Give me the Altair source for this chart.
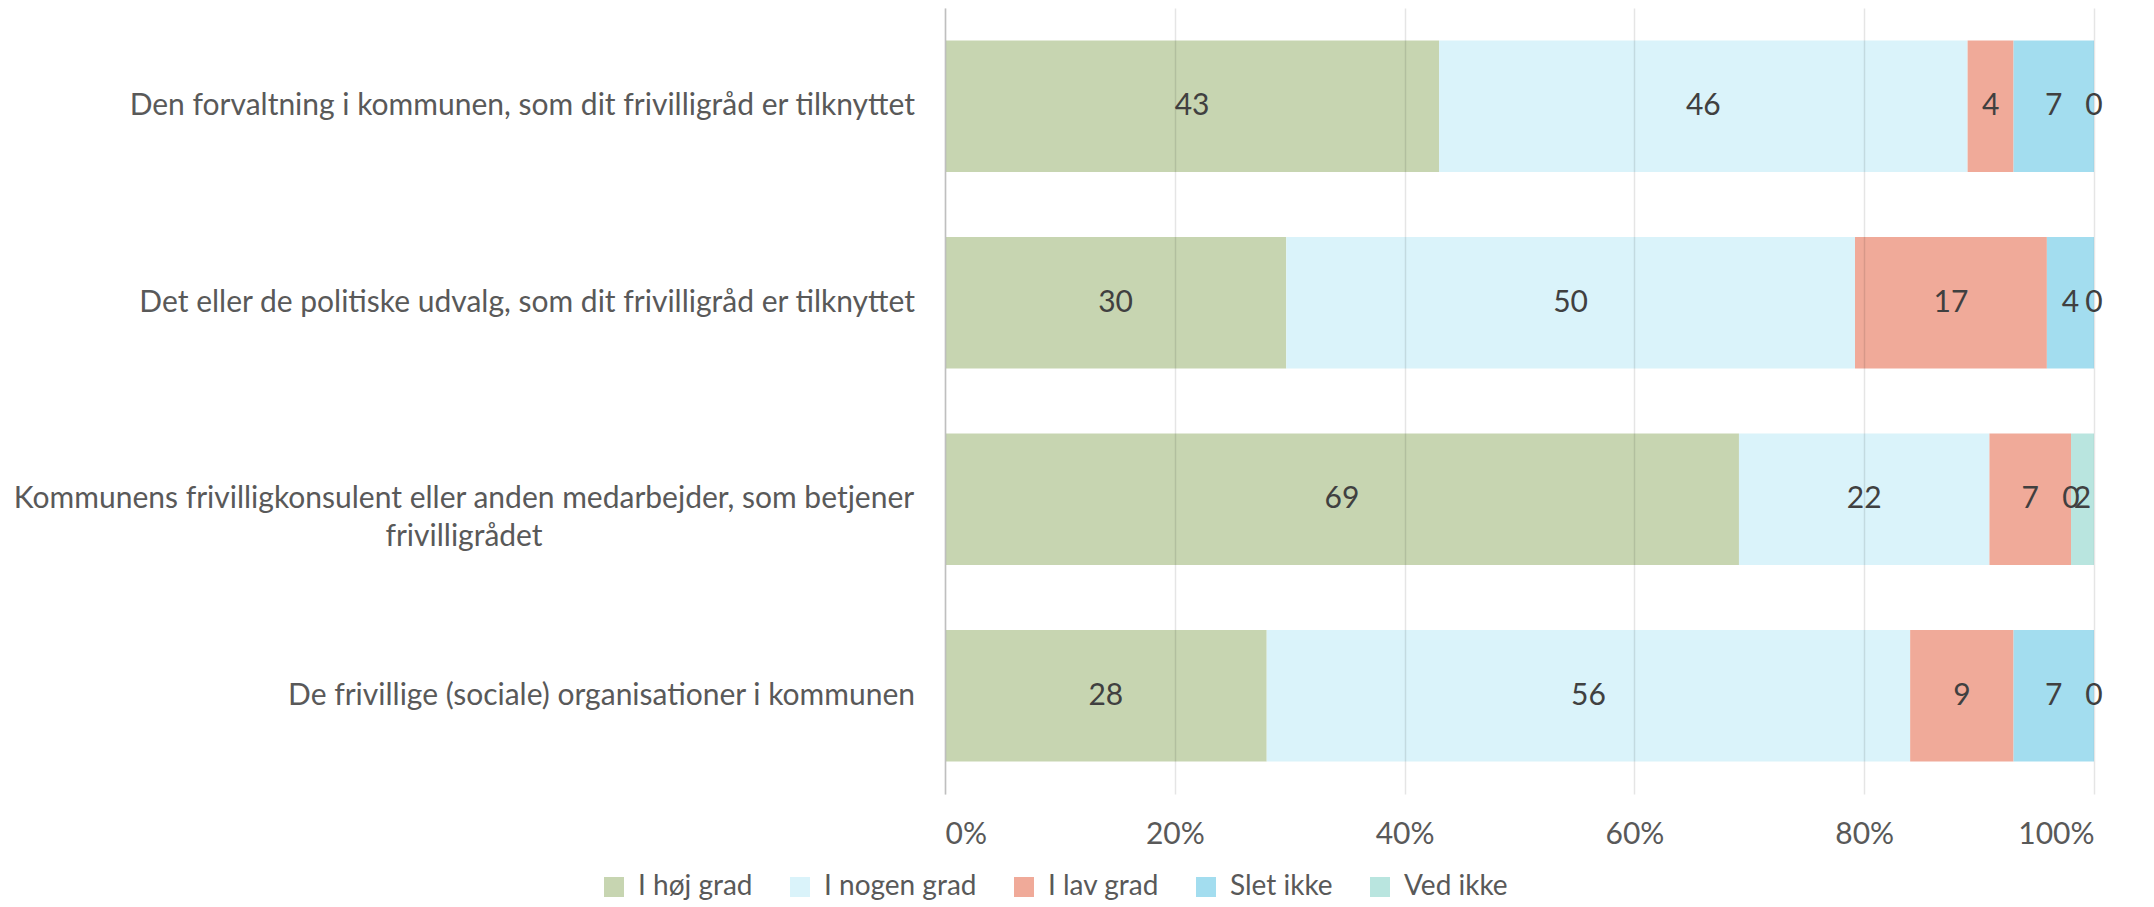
import altair as alt
import pandas as pd

categories = [
    "Den forvaltning i kommunen, som dit frivilligråd er tilknyttet",
    "Det eller de politiske udvalg, som dit frivilligråd er tilknyttet",
    "Kommunens frivilligkonsulent eller anden medarbejder, som betjener\nfrivilligrådet",
    "De frivillige (sociale) organisationer i kommunen",
]
series = ["I høj grad", "I nogen grad", "I lav grad", "Slet ikke", "Ved ikke"]
hoj = [43.0, 29.7, 69.1, 28.0]
nogen = [46.0, 49.5, 21.8, 56.0]
lav = [4.0, 16.7, 7.1, 9.0]
slet = [7.0, 4.1, 0.0, 7.0]
ved = [0.0, 0.0, 2.0, 0.0]
colors = ["#C7D5B1", "#DAF3FA", "#F0AA99", "#A3DDEF", "#B9E5DF"]
x_ticks = [0, 20, 40, 60, 80, 100]

FONT = "Lato"
FS = 30
rows = []
for i, cat in enumerate(categories):
    start = 0.0
    for j, vals in enumerate([hoj, nogen, lav, slet, ved]):
        v = vals[i]
        rows.append({"cat": cat, "series": series[j], "order": j, "value": v,
                     "start": start, "end": start + v, "mid": start + v / 2,
                     "label": str(int(round(v + 1e-9)))})
        start += v
df = pd.DataFrame(rows)
cat_df = pd.DataFrame({"cat": categories,
                       "multi": ["\n" in c for c in categories]})

y_enc = alt.Y("cat:N", sort=categories,
              scale=alt.Scale(paddingInner=0.33, paddingOuter=0.165),
              axis=alt.Axis(labels=False, ticks=False, title=None, domain=True,
                            domainColor="#BFBFBF", domainWidth=1.5, grid=False, zindex=1))
x_enc = alt.X("start:Q", scale=alt.Scale(domain=[0, 100], nice=False),
              axis=alt.Axis(values=x_ticks, labelExpr="datum.value + '%'", title=None,
                            grid=True, gridColor="#000000", gridOpacity=0.1, gridWidth=1.5,
                            domain=False, ticks=False, labelFont=FONT, labelFontSize=FS,
                            labelColor="#595959", labelPadding=25, zindex=1))

bars = alt.Chart(df).mark_bar().encode(
    y=y_enc,
    x=x_enc,
    x2="end:Q",
    color=alt.Color("series:N", sort=series,
                    scale=alt.Scale(domain=series, range=colors),
                    legend=alt.Legend(title=None, orient="none", direction="horizontal",
                                      legendX=-345, legendY=865, symbolType="square",
                                      symbolSize=400, symbolStrokeWidth=0,
                                      labelFont=FONT, labelFontSize=28, labelLimit=500,
                                      labelColor="#595959", columnPadding=33,
                                      labelOffset=10)),
    order="order:Q",
)

texts = alt.Chart(df).mark_text(font=FONT, fontSize=FS, color="#404040",
                                baseline="middle", align="center").encode(
    y=alt.Y("cat:N", sort=categories),
    x=alt.X("mid:Q"),
    text="label:N",
)

cat_right = alt.Chart(cat_df).transform_filter("!datum.multi").mark_text(
    font=FONT, fontSize=FS, color="#595959", align="right", baseline="middle"
).encode(y=alt.Y("cat:N", sort=categories), x=alt.value(-30), text="cat:N")

cat_center = alt.Chart(cat_df).transform_filter("datum.multi").mark_text(
    font=FONT, fontSize=FS, color="#595959", align="center", baseline="middle",
    lineBreak="\n", lineHeight=38
).encode(y=alt.Y("cat:N", sort=categories), x=alt.value(-481), text="cat:N")

chart = alt.layer(bars, texts, cat_right, cat_center).properties(
    width=1149, height=786,
    autosize=alt.AutoSizeParams(type="none"),
    padding={"left": 937, "top": 0, "right": 20, "bottom": 113},
).configure_view(stroke=None)

chart.save("out.html", embed_options={"renderer": "svg", "actions": False})
